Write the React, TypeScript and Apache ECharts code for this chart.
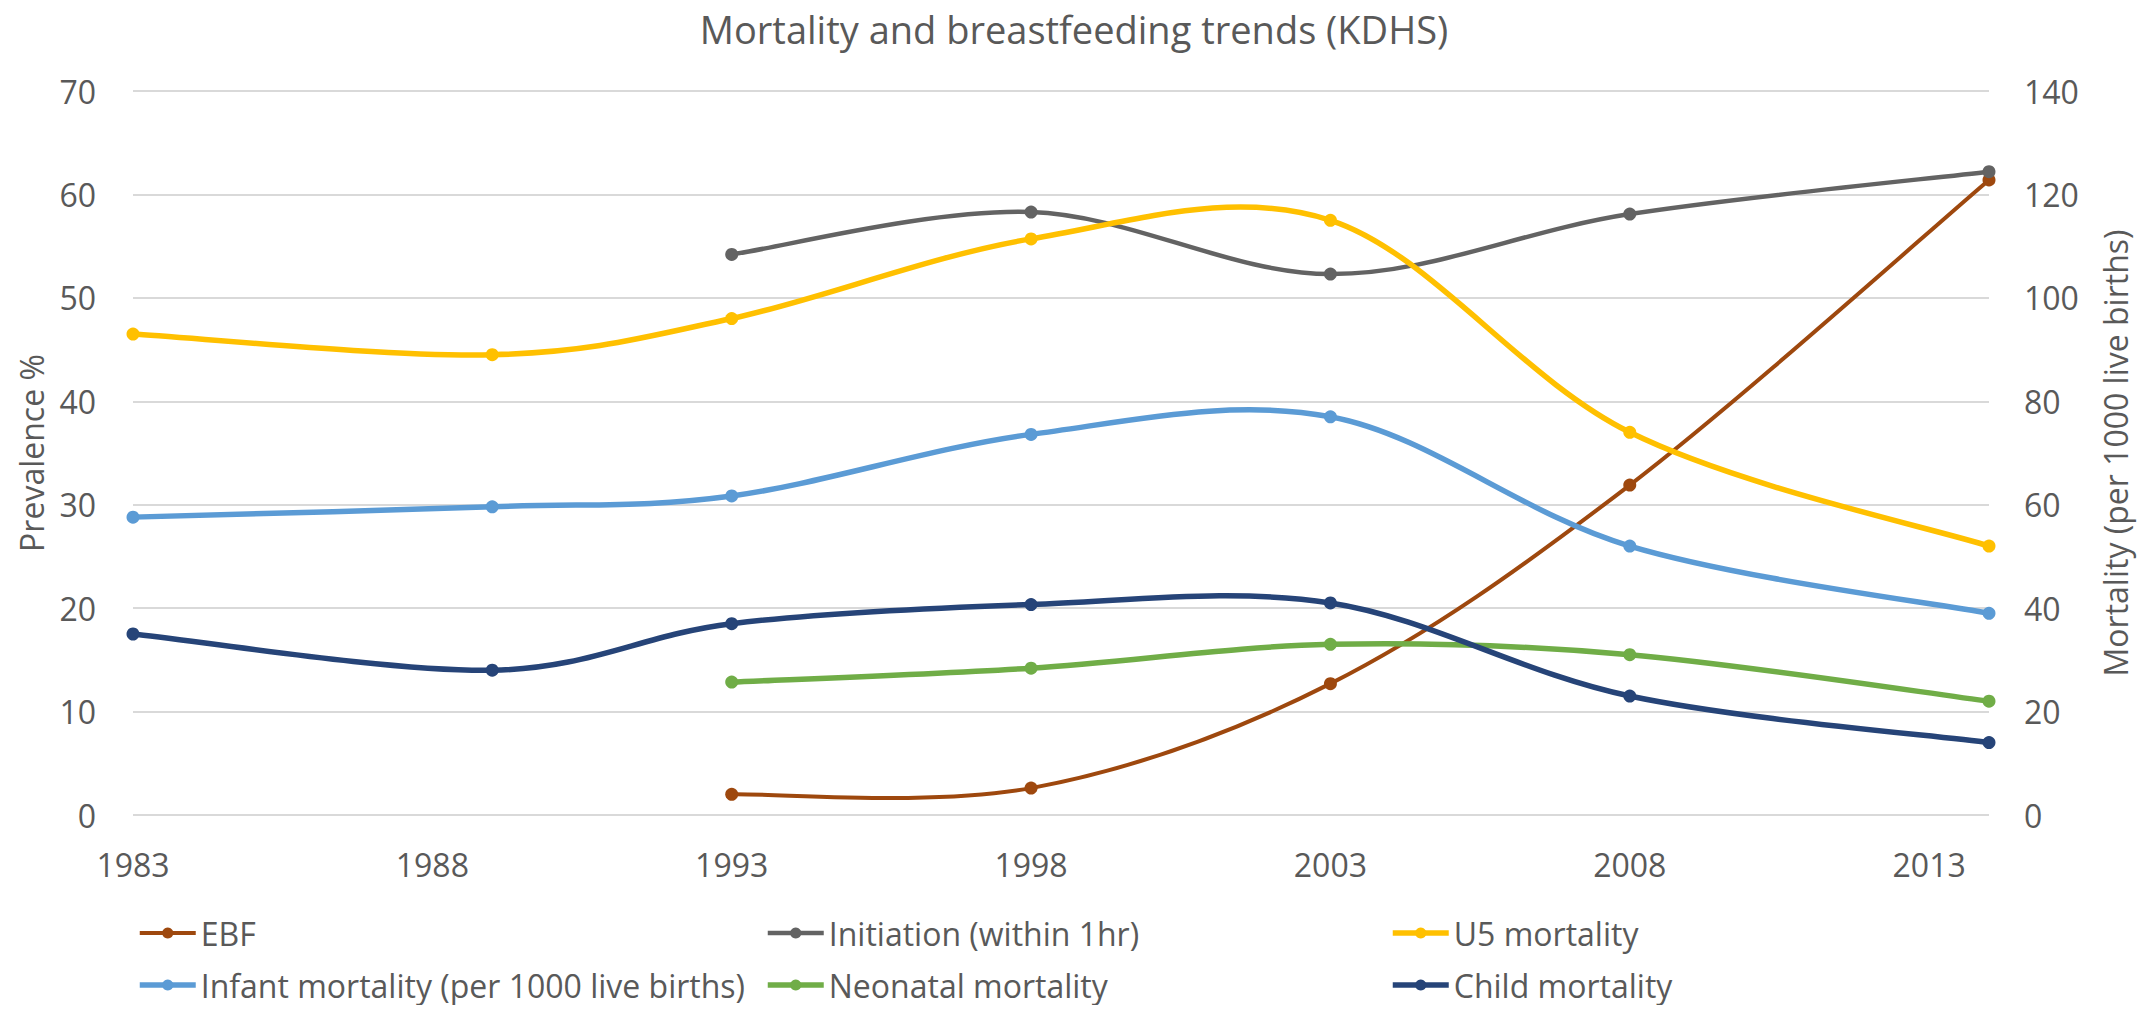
import React, { useEffect, useRef } from "react";
import * as echarts from "echarts";

const titleText = "Mortality and breastfeeding trends (KDHS)";
const leftAxisName = "Prevalence %";
const rightAxisName = "Mortality (per 1000 live births)";

const years = [1983, 1989, 1993, 1998, 2003, 2008, 2014];
const ebf = [null, null, 2.0, 2.6, 12.7, 31.9, 61.4];
const initiation = [null, null, 54.2, 58.3, 52.3, 58.1, 62.2];
const u5Mortality = [93, 89, 96, 111.4, 115, 74, 52];
const infantMortality = [57.6, 59.6, 61.7, 73.6, 77, 52, 39];
const neonatalMortality = [null, null, 25.7, 28.4, 33, 31, 22];
const childMortality = [35, 28, 37, 40.7, 41, 23, 14];

const FONT = "'Open Sans', 'Liberation Sans', sans-serif";
const TEXT = "#595959";

type Def = { name: string; vals: (number | null)[]; color: string; width: number; axis: number };

const defs: Def[] = [
  { name: "EBF", vals: ebf, color: "#9E480E", width: 4, axis: 0 },
  { name: "Initiation (within 1hr)", vals: initiation, color: "#636363", width: 4.5, axis: 0 },
  { name: "U5 mortality", vals: u5Mortality, color: "#FFC000", width: 5.5, axis: 1 },
  { name: "Infant mortality (per 1000 live births)", vals: infantMortality, color: "#5B9BD5", width: 5.5, axis: 1 },
  { name: "Neonatal mortality", vals: neonatalMortality, color: "#70AD47", width: 5.5, axis: 1 },
  { name: "Child mortality", vals: childMortality, color: "#264478", width: 5.5, axis: 1 },
];

function pairs(vals: (number | null)[]) {
  const out: [number, number][] = [];
  years.forEach((y, i) => {
    const v = vals[i];
    if (v !== null && v !== undefined) out.push([y, v]);
  });
  return out;
}

// Excel-style smoothed line: Catmull-Rom spline (tension 1/6) in pixel space
function smoothPath(pts: number[][]) {
  let d = `M${pts[0][0]},${pts[0][1]}`;
  for (let i = 0; i < pts.length - 1; i++) {
    const p0 = pts[i - 1] || pts[i];
    const p1 = pts[i];
    const p2 = pts[i + 1];
    const p3 = pts[i + 2] || pts[i + 1];
    const c1x = p1[0] + (p2[0] - p0[0]) / 6;
    const c1y = p1[1] + (p2[1] - p0[1]) / 6;
    const c2x = p2[0] - (p3[0] - p1[0]) / 6;
    const c2y = p2[1] - (p3[1] - p1[1]) / 6;
    d += ` C${c1x},${c1y} ${c2x},${c2y} ${p2[0]},${p2[1]}`;
  }
  return d;
}

export default function App() {
  const ref = useRef<HTMLDivElement>(null);
  useEffect(() => {
    if (!ref.current) return;
    const chart = echarts.init(ref.current, undefined, { renderer: "svg" });
    const legendBase = {
      orient: "vertical",
      top: 917,
      padding: 0,
      itemGap: 20,
      itemWidth: 56,
      itemHeight: 14,
      selectedMode: false,
      textStyle: { fontFamily: FONT, fontSize: 32, color: TEXT, lineHeight: 32 },
    };
    const legendItem = (i: number) => ({
      name: defs[i].name,
      lineStyle: { color: defs[i].color, width: defs[i].width, opacity: 1 },
      itemStyle: { color: defs[i].color, opacity: 1 },
    });

    const curveSeries = defs.map((d) => {
      const data = pairs(d.vals);
      return {
        name: d.name + " curve",
        type: "custom",
        yAxisIndex: d.axis,
        data,
        encode: { x: 0, y: 1 },
        silent: true,
        renderItem: (params: any, api: any) => {
          if (params.dataIndex !== 0) return null;
          const pts = data.map((p) => api.coord(p));
          return {
            type: "path",
            shape: { pathData: smoothPath(pts) },
            style: { stroke: d.color, lineWidth: d.width, fill: "none", lineJoin: "round", lineCap: "round" },
          };
        },
      };
    });

    const markerSeries = defs.map((d) => ({
      name: d.name,
      type: "line",
      yAxisIndex: d.axis,
      data: pairs(d.vals),
      symbol: "circle",
      symbolSize: 13,
      lineStyle: { color: d.color, width: d.width, opacity: 0 },
      itemStyle: { color: d.color },
      emphasis: { disabled: true },
    }));

    chart.setOption({
      animation: false,
      backgroundColor: "#ffffff",
      title: {
        text: titleText,
        left: "center",
        top: 5,
        textStyle: { fontFamily: FONT, fontSize: 38, fontWeight: "normal", color: TEXT },
      },
      legend: [
        { ...legendBase, left: 137, data: [legendItem(0), legendItem(3)] },
        { ...legendBase, left: 765, data: [legendItem(1), legendItem(4)] },
        { ...legendBase, left: 1390, data: [legendItem(2), legendItem(5)] },
      ],
      grid: { left: 133, right: 159, top: 91, bottom: 198, containLabel: false, outerBoundsMode: "none" },
      xAxis: {
        type: "value",
        min: 1983,
        max: 2014,
        interval: 5,
        axisLine: { show: false },
        axisTick: { show: false },
        splitLine: { show: false },
        axisLabel: {
          fontFamily: FONT,
          fontSize: 32,
          color: TEXT,
          margin: 33,
          showMaxLabel: false,
          formatter: (v: number) => String(v),
        },
      },
      yAxis: [
        {
          type: "value",
          min: 0,
          max: 70,
          interval: 10,
          name: leftAxisName,
          nameLocation: "middle",
          nameRotate: 90,
          nameGap: 86,
          nameTextStyle: { fontFamily: FONT, fontSize: 32, color: TEXT },
          axisLine: { show: false },
          axisTick: { show: false },
          splitLine: { lineStyle: { color: "#d9d9d9", width: 2 } },
          axisLabel: { fontFamily: FONT, fontSize: 32, color: TEXT, margin: 37 },
        },
        {
          type: "value",
          min: 0,
          max: 140,
          interval: 20,
          position: "right",
          name: rightAxisName,
          nameLocation: "middle",
          nameRotate: 90,
          nameGap: 110,
          nameTextStyle: { fontFamily: FONT, fontSize: 32, color: TEXT },
          axisLine: { show: false },
          axisTick: { show: false },
          splitLine: { show: false },
          axisLabel: { fontFamily: FONT, fontSize: 32, color: TEXT, margin: 35 },
        },
      ],
      series: [...curveSeries, ...markerSeries],
    });
    return () => chart.dispose();
  }, []);
  return <div ref={ref} style={{ width: 2148, height: 1013, margin: -8 }} />;
}
